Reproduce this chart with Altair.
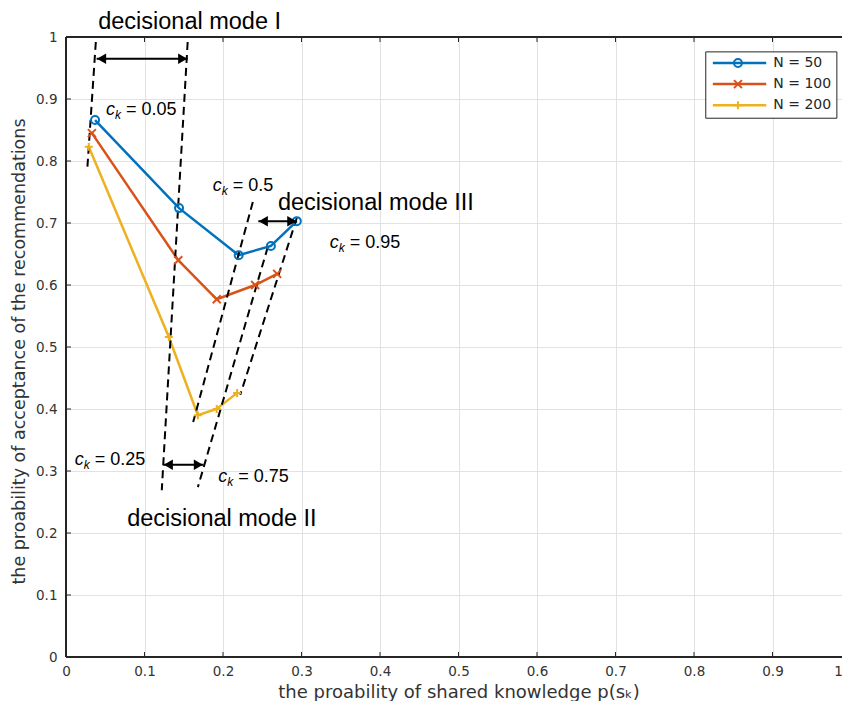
import altair as alt
import pandas as pd

# ---------------- data ----------------
series_names = ["N = 50", "N = 100", "N = 200"]
series_colors = ["#0072BD", "#D95319", "#EDB120"]
series_shapes = ["circle", "M-1,-1L1,1M-1,1L1,-1", "M-1,0H1M0,-1V1"]

x_n50 = [0.037, 0.144, 0.220, 0.261, 0.294]
y_n50 = [0.866, 0.724, 0.648, 0.663, 0.703]
x_n100 = [0.033, 0.143, 0.192, 0.241, 0.269]
y_n100 = [0.845, 0.640, 0.577, 0.600, 0.618]
x_n200 = [0.029, 0.131, 0.168, 0.192, 0.218]
y_n200 = [0.823, 0.516, 0.390, 0.400, 0.426]

tick_values = [0, 0.1, 0.2, 0.3, 0.4, 0.5, 0.6, 0.7, 0.8, 0.9, 1]
inner_ticks = [0.1, 0.2, 0.3, 0.4, 0.5, 0.6, 0.7, 0.8, 0.9]

# dashed separator lines (start x, start y, end x, end y)
dash_x1 = [0.038, 0.155, 0.238, 0.257, 0.294]
dash_y1 = [0.992, 0.992, 0.734, 0.661, 0.708]
dash_x2 = [0.027, 0.122, 0.162, 0.168, 0.222]
dash_y2 = [0.785, 0.269, 0.379, 0.274, 0.423]

# double-headed arrows
arrow_x1 = [0.039, 0.124, 0.245]
arrow_x2 = [0.155, 0.175, 0.294]
arrow_y = [0.965, 0.310, 0.703]

# mode labels
mode_texts = ["decisional mode I", "decisional mode II", "decisional mode III"]
mode_x = [0.041, 0.078, 0.270]
mode_y = [1.025, 0.223, 0.732]

# c_k labels
ck_values = ["0.05", "0.5", "0.95", "0.25", "0.75"]
ck_x = [0.051, 0.187, 0.336, 0.011, 0.194]
ck_y = [0.882, 0.760, 0.668, 0.318, 0.290]

# legend geometry (data units)
leg_box = dict(x=0.815, x2=0.982, y=0.976, y2=0.869)
leg_y = [0.958, 0.924, 0.890]
leg_line_x1, leg_line_x2, leg_mark_x, leg_text_x = 0.824, 0.892, 0.856, 0.901

W, H = 776, 620       # plot area drawn inside the window
XR = 785              # pixel length of the x range 0..1 (runs to the window edge)
FONT = "Liberation Sans"
AXFONT = "DejaVu Sans"

# ---------------- tables ----------------
rows = []
for name, xs_, ys_ in zip(series_names, [x_n50, x_n100, x_n200], [y_n50, y_n100, y_n200]):
    for i, (a, b) in enumerate(zip(xs_, ys_)):
        rows.append({"x": a, "y": b, "series": name, "order": i})
df = pd.DataFrame(rows)

dash_rows = []
for i in range(len(dash_x1)):
    dash_rows.append({"x": dash_x1[i], "y": dash_y1[i], "id": i})
    dash_rows.append({"x": dash_x2[i], "y": dash_y2[i], "id": i})
df_dash = pd.DataFrame(dash_rows)

df_arrow = pd.DataFrame({"x": arrow_x1, "x2": arrow_x2, "y": arrow_y})
df_mode = pd.DataFrame({"x": mode_x, "y": mode_y, "text": mode_texts})
df_ck = pd.DataFrame({"x": ck_x, "y": ck_y, "label": ["= " + v for v in ck_values]})
df_ticks = pd.DataFrame({"x": inner_ticks, "y": inner_ticks})
df_legbox = pd.DataFrame([leg_box])
df_leg = pd.DataFrame({
    "series": series_names,
    "y": leg_y,
    "x": [leg_line_x1] * 3,
    "x2": [leg_line_x2] * 3,
    "xm": [leg_mark_x] * 3,
    "xt": [leg_text_x] * 3,
})

# ---------------- scales / axes ----------------
xs = alt.Scale(domain=[0, 1], range=[0, XR], nice=False, zero=False)
ys = alt.Scale(domain=[0, 1], nice=False, zero=False)
cscale = alt.Scale(domain=series_names, range=series_colors)
sscale = alt.Scale(domain=series_names, range=series_shapes)

xaxis = alt.Axis(
    values=tick_values, format="~g", labelFlush=False,
    labelOffset={"condition": {"test": "datum.value >= 1", "value": -13}, "value": 0},
    title="the proability of shared  knowledge p(sₖ)",
    grid=True, domain=False, ticks=False, labelPadding=7,
    titleX=XR / 2, titleY=35, titleBaseline="middle", titleAlign="center", titleFontSize=18)
yaxis = alt.Axis(
    values=tick_values, format="~g", labelFlush=False,
    title="the proability of acceptance of the recommendations",
    grid=True, domain=False, ticks=False, labelPadding=9,
    titleX=-47, titleY=H / 2 + 4, titleAngle=270, titleBaseline="middle", titleAlign="center",
    titleFontSize=17.5)


def X(f="x"):
    return alt.X(f"{f}:Q", scale=xs, axis=xaxis)


def Y(f="y"):
    return alt.Y(f"{f}:Q", scale=ys, axis=yaxis)


color = alt.Color("series:N", scale=cscale, legend=None)
shape = alt.Shape("series:N", scale=sscale, legend=None)

lines = alt.Chart(df).mark_line(strokeWidth=2.5).encode(
    x=X(), y=Y(), color=color, order="order:Q")

points = alt.Chart(df).mark_point(filled=False, strokeWidth=2, size=64, opacity=1).encode(
    x=X(), y=Y(), color=color, shape=shape)

dashes = alt.Chart(df_dash).mark_line(strokeDash=[8, 5], strokeWidth=2, color="black").encode(
    x=X(), y=Y(), detail="id:N", order="id:Q")

arrow_lines = alt.Chart(df_arrow).mark_rule(strokeWidth=2, color="black").encode(
    x=X(), x2="x2:Q", y=Y())
arrow_left = alt.Chart(df_arrow).mark_point(shape="triangle-left", filled=True, size=110,
                                           color="black", opacity=1, xOffset=5).encode(
    x=X(), y=Y())
arrow_right = alt.Chart(df_arrow).mark_point(shape="triangle-right", filled=True, size=110,
                                            color="black", opacity=1, xOffset=-5).encode(
    x=X("x2"), y=Y())

modes = alt.Chart(df_mode).mark_text(align="left", baseline="middle", fontSize=23.5,
                                     font=FONT, color="black").encode(
    x=X(), y=Y(), text="text:N")

ck_c = alt.Chart(df_ck).mark_text(text="c", align="left", baseline="middle", fontSize=18,
                                  fontStyle="italic", font=FONT, color="black").encode(
    x=X(), y=Y())
ck_k = alt.Chart(df_ck).mark_text(text="k", align="left", baseline="middle", fontSize=12,
                                  fontStyle="italic", font=FONT, color="black", dx=9, dy=5).encode(
    x=X(), y=Y())
ck_v = alt.Chart(df_ck).mark_text(align="left", baseline="middle", fontSize=18,
                                  font=FONT, color="black", dx=20).encode(
    x=X(), y=Y(), text="label:N")

tick_b = alt.Chart(df_ticks).mark_rule(color="#262626", strokeWidth=1).encode(
    x=X(), y=alt.value(H), y2=alt.value(H - 5))
tick_t = alt.Chart(df_ticks).mark_rule(color="#262626", strokeWidth=1).encode(
    x=X(), y=alt.value(0), y2=alt.value(5))
tick_l = alt.Chart(df_ticks).mark_rule(color="#262626", strokeWidth=1).encode(
    y=Y(), x=alt.value(0), x2=alt.value(5))

# plot frame (left, top, bottom; the right side lies past the window edge)
frame_l = alt.Chart(df_ticks).mark_rule(color="#262626", strokeWidth=1.2).encode(
    x=alt.value(0), y=alt.value(0), y2=alt.value(H))
frame_t = alt.Chart(df_ticks).mark_rule(color="#262626", strokeWidth=1.2).encode(
    y=alt.value(0), x=alt.value(0), x2=alt.value(XR))
frame_b = alt.Chart(df_ticks).mark_rule(color="#262626", strokeWidth=1.2).encode(
    y=alt.value(H), x=alt.value(0), x2=alt.value(XR))

leg_rect = alt.Chart(df_legbox).mark_rect(fill="white", stroke="#262626", strokeWidth=1).encode(
    x=X(), x2="x2:Q", y=Y(), y2="y2:Q")
leg_lines = alt.Chart(df_leg).mark_rule(strokeWidth=2.5).encode(
    x=X(), x2="x2:Q", y=Y(), color=color)
leg_marks = alt.Chart(df_leg).mark_point(filled=False, strokeWidth=2, size=64, opacity=1).encode(
    x=X("xm"), y=Y(), color=color, shape=shape)
leg_text = alt.Chart(df_leg).mark_text(align="left", baseline="middle", fontSize=14,
                                       font=AXFONT, color="#262626").encode(
    x=X("xt"), y=Y(), text="series:N")

chart = alt.layer(
    lines, dashes, points, arrow_lines, arrow_left, arrow_right,
    modes, ck_c, ck_k, ck_v, tick_b, tick_t, tick_l,
    frame_l, frame_t, frame_b,
    leg_rect, leg_lines, leg_marks, leg_text,
).properties(
    width=W, height=H,
    autosize=alt.AutoSizeParams(type="none"),
    padding={"left": 58, "top": 29, "right": 0, "bottom": 44},
    background="white",
).configure_view(
    stroke=None
).configure_axis(
    labelFont=AXFONT, labelFontSize=13.5, labelColor="#333333",
    titleFont=AXFONT, titleColor="#333333", titleFontWeight="normal",
    gridColor="#e2e2e2", gridWidth=1,
)

chart.save("out.html", embed_options={"renderer": "svg", "actions": False})
